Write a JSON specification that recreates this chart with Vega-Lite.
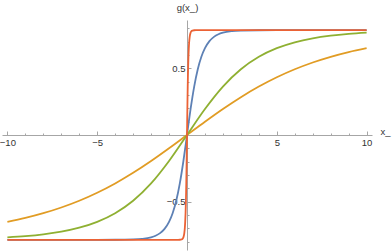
{
  "$schema": "https://vega.github.io/schema/vega-lite/v6.json",
  "width": 370,
  "height": 230,
  "autosize": {"type": "none"},
  "padding": {"left": 2, "top": 20, "right": 20, "bottom": 1},
  "background": "white",
  "config": {
    "view": {"stroke": null},
    "axis": {
      "domainColor": "#a6a6a6",
      "tickColor": "#a6a6a6",
      "labelColor": "#333333",
      "titleColor": "#333333",
      "labelFont": "Liberation Sans",
      "titleFont": "Liberation Sans",
      "labelFontSize": 9.5,
      "titleFontSize": 9.5,
      "titleFontWeight": "normal",
      "grid": false,
      "labelFlush": false,
      "labelOverlap": false
    }
  },
  "data": {"values": [
    {"s":"a","x":-10,"y":-0.7854},{"s":"a","x":-5,"y":-0.7854},{"s":"a","x":-4,"y":-0.7851},{"s":"a","x":-3,"y":-0.7829},{"s":"a","x":-2.5,"y":-0.7787},{"s":"a","x":-2,"y":-0.7671},{"s":"a","x":-1.75,"y":-0.7552},{"s":"a","x":-1.5,"y":-0.7357},{"s":"a","x":-1.25,"y":-0.7035},{"s":"a","x":-1,"y":-0.6509},{"s":"a","x":-0.8,"y":-0.5862},{"s":"a","x":-0.6,"y":-0.4929},{"s":"a","x":-0.4,"y":-0.3631},{"s":"a","x":-0.2,"y":-0.1949},{"s":"a","x":0,"y":0},{"s":"a","x":0.2,"y":0.1949},{"s":"a","x":0.4,"y":0.3631},{"s":"a","x":0.6,"y":0.4929},{"s":"a","x":0.8,"y":0.5862},{"s":"a","x":1,"y":0.6509},{"s":"a","x":1.25,"y":0.7035},{"s":"a","x":1.5,"y":0.7357},{"s":"a","x":1.75,"y":0.7552},{"s":"a","x":2,"y":0.7671},{"s":"a","x":2.5,"y":0.7787},{"s":"a","x":3,"y":0.7829},{"s":"a","x":4,"y":0.7851},{"s":"a","x":5,"y":0.7854},{"s":"a","x":10,"y":0.7854},
    {"s":"b","x":-10,"y":-0.6509},{"s":"b","x":-9,"y":-0.6216},{"s":"b","x":-8,"y":-0.5862},{"s":"b","x":-7,"y":-0.5436},{"s":"b","x":-6,"y":-0.4929},{"s":"b","x":-5,"y":-0.4329},{"s":"b","x":-4,"y":-0.3631},{"s":"b","x":-3,"y":-0.2835},{"s":"b","x":-2,"y":-0.1949},{"s":"b","x":-1,"y":-0.0993},{"s":"b","x":0,"y":0},{"s":"b","x":1,"y":0.0993},{"s":"b","x":2,"y":0.1949},{"s":"b","x":3,"y":0.2835},{"s":"b","x":4,"y":0.3631},{"s":"b","x":5,"y":0.4329},{"s":"b","x":6,"y":0.4929},{"s":"b","x":7,"y":0.5436},{"s":"b","x":8,"y":0.5862},{"s":"b","x":9,"y":0.6216},{"s":"b","x":10,"y":0.6509},
    {"s":"c","x":-10,"y":-0.7671},{"s":"c","x":-9,"y":-0.7581},{"s":"c","x":-8,"y":-0.7447},{"s":"c","x":-7,"y":-0.7247},{"s":"c","x":-6,"y":-0.6949},{"s":"c","x":-5,"y":-0.6509},{"s":"c","x":-4,"y":-0.5862},{"s":"c","x":-3,"y":-0.4929},{"s":"c","x":-2,"y":-0.3631},{"s":"c","x":-1,"y":-0.1949},{"s":"c","x":0,"y":0},{"s":"c","x":1,"y":0.1949},{"s":"c","x":2,"y":0.3631},{"s":"c","x":3,"y":0.4929},{"s":"c","x":4,"y":0.5862},{"s":"c","x":5,"y":0.6509},{"s":"c","x":6,"y":0.6949},{"s":"c","x":7,"y":0.7247},{"s":"c","x":8,"y":0.7447},{"s":"c","x":9,"y":0.7581},{"s":"c","x":10,"y":0.7671},
    {"s":"d","x":-10,"y":-0.7854},{"s":"d","x":-0.5,"y":-0.7854},{"s":"d","x":-0.4,"y":-0.7851},{"s":"d","x":-0.3,"y":-0.7829},{"s":"d","x":-0.25,"y":-0.7787},{"s":"d","x":-0.2,"y":-0.7671},{"s":"d","x":-0.15,"y":-0.7357},{"s":"d","x":-0.12,"y":-0.6949},{"s":"d","x":-0.1,"y":-0.6509},{"s":"d","x":-0.08,"y":-0.5862},{"s":"d","x":-0.06,"y":-0.4929},{"s":"d","x":-0.05,"y":-0.4329},{"s":"d","x":-0.04,"y":-0.3631},{"s":"d","x":-0.03,"y":-0.2835},{"s":"d","x":-0.02,"y":-0.1949},{"s":"d","x":-0.01,"y":-0.0993},{"s":"d","x":0,"y":0},{"s":"d","x":0.01,"y":0.0993},{"s":"d","x":0.02,"y":0.1949},{"s":"d","x":0.03,"y":0.2835},{"s":"d","x":0.04,"y":0.3631},{"s":"d","x":0.05,"y":0.4329},{"s":"d","x":0.06,"y":0.4929},{"s":"d","x":0.08,"y":0.5862},{"s":"d","x":0.1,"y":0.6509},{"s":"d","x":0.12,"y":0.6949},{"s":"d","x":0.15,"y":0.7357},{"s":"d","x":0.2,"y":0.7671},{"s":"d","x":0.25,"y":0.7787},{"s":"d","x":0.3,"y":0.7829},{"s":"d","x":0.4,"y":0.7851},{"s":"d","x":0.5,"y":0.7854},{"s":"d","x":10,"y":0.7854}
  ]},
  "mark": {"type": "line", "interpolate": "monotone", "strokeWidth": 1.8},
  "encoding": {
    "x": {
      "field": "x", "type": "quantitative",
      "scale": {"domain": [-10.3, 10.3], "nice": false, "zero": false},
      "axis": {
        "orient": "bottom", "offset": -115,
        "values": [-10,-9,-8,-7,-6,-5,-4,-3,-2,-1,0,1,2,3,4,5,6,7,8,9,10],
        "tickSize": {"condition": {"test": "datum.value % 5 == 0", "value": -4}, "value": -2},
        "labelExpr": "datum.value % 5 == 0 && datum.value != 0 ? datum.label : ''",
        "labelPadding": 6,
        "title": "x_", "titleAngle": 0, "titleX": 378, "titleY": -4,
        "titleAlign": "left", "titleBaseline": "middle"
      }
    },
    "y": {
      "field": "y", "type": "quantitative",
      "scale": {"domain": [-0.862, 0.862], "nice": false, "zero": false},
      "axis": {
        "orient": "left", "offset": -185,
        "values": [-0.8,-0.7,-0.6,-0.5,-0.4,-0.3,-0.2,-0.1,0,0.1,0.2,0.3,0.4,0.5,0.6,0.7,0.8],
        "tickSize": {"condition": {"test": "abs(datum.value) == 0.5", "value": -4}, "value": -2},
        "labelExpr": "abs(datum.value) == 0.5 ? datum.label : ''",
        "labelPadding": 6,
        "title": "g(x_)", "titleAngle": 0, "titleX": 0, "titleY": -13,
        "titleAlign": "center", "titleBaseline": "middle"
      }
    },
    "color": {
      "field": "s", "type": "nominal", "legend": null,
      "scale": {"domain": ["a","b","c","d"], "range": ["#5E81B5","#E19C24","#8FB032","#EB6235"]}
    }
  }
}
